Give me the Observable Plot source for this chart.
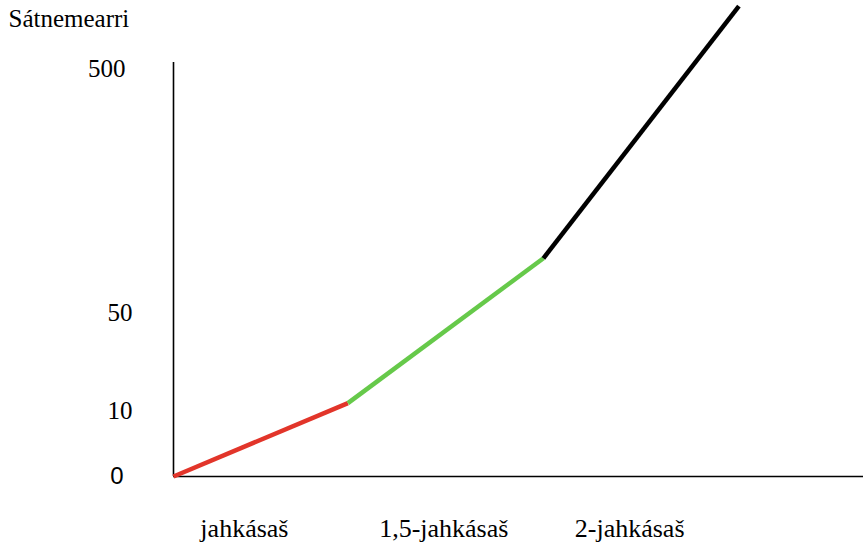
<!DOCTYPE html>
<html>
<head>
<meta charset="utf-8">
<script src="https://cdn.jsdelivr.net/npm/d3@7"></script>
<script src="https://cdn.jsdelivr.net/npm/@observablehq/plot@0.6"></script>
<style>
  html, body { margin: 0; padding: 0; background: #fff; }
</style>
</head>
<body>
<div id="chart"></div>
<script>
// Data
const ages = [0, 0.91, 1.93, 2.95];          // x positions of the line's vertices (axis units)
const words = [0, 13, 150, 615];              // vocabulary size at each vertex
const xTickPos = [0.37, 1.41, 2.38];
const xTickLabels = ["jahkásaš", "1,5-jahkásaš", "2-jahkásaš"];
const yTicks = [0, 10, 50, 500];
const yLabel = "Sátnemearri";

// Styles
const segColors = ["#e2352a", "#66c94a", "#000000"];
const serif = "'Liberation Serif', 'Times New Roman', serif";
const sans = "'Liberation Sans', Arial, sans-serif";

const segs = d3.range(ages.length - 1).map(i => ({
  x1: ages[i], y1: words[i], x2: ages[i + 1], y2: words[i + 1], i
}));

const chart = Plot.plot({
  width: 863,
  height: 544,
  marginLeft: 173,
  marginRight: 0,
  marginTop: 62,
  marginBottom: 68,
  style: {background: "#fff", color: "#000"},
  x: {domain: [0, 3.6]},
  y: {type: "linear", domain: yTicks, range: [476, 410, 312, 68]},
  color: {type: "identity"},
  marks: [
    Plot.ruleX([0], {y1: 0, y2: 511, stroke: "#000", strokeWidth: 1.6}),
    Plot.ruleY([0], {x1: 0, x2: 3.6, stroke: "#000", strokeWidth: 1.6}),
    Plot.link(segs, {
      x1: "x1", y1: "y1", x2: "x2", y2: "y2",
      stroke: d => segColors[d.i], strokeWidth: 4.5, strokeLinecap: "butt"
    }),
    Plot.axisX(xTickPos, {
      tickSize: 0, tickPadding: 42, label: null,
      tickFormat: d => xTickLabels[xTickPos.indexOf(d)],
      fontSize: 26, fontFamily: serif, fill: "#000"
    }),
    Plot.axisY([10, 50], {
      tickSize: 0, tickPadding: 41, label: null,
      fontSize: 25, fontFamily: serif, fill: "#000"
    }),
    Plot.axisY([500], {
      tickSize: 0, tickPadding: 48, label: null,
      fontSize: 25, fontFamily: serif, fill: "#000"
    }),
    Plot.axisY([0], {
      tickSize: 0, tickPadding: 50, label: null,
      fontSize: 24, fontFamily: sans, fill: "#000"
    }),
    Plot.text([yLabel], {
      frameAnchor: "top-left", dx: -165, dy: -44,
      textAnchor: "start", lineAnchor: "middle",
      fontSize: 25, fontFamily: serif, fill: "#000"
    })
  ]
});
document.getElementById("chart").appendChild(chart);
</script>
</body>
</html>
